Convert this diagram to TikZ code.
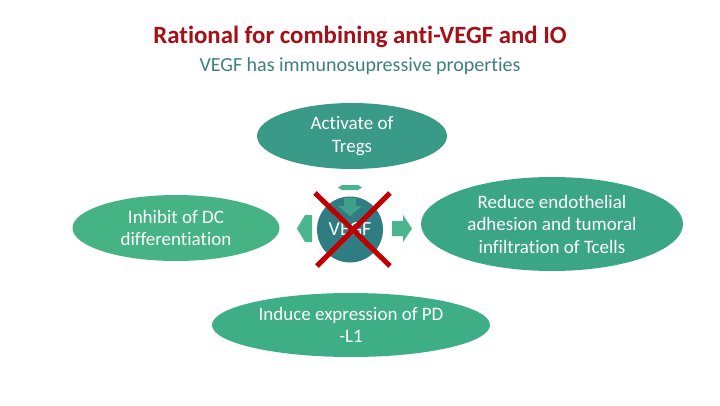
\documentclass[tikz,border=0pt]{standalone}
\usepackage{fontspec}
\setmainfont{Carlito}[Ligatures=NoCommon]
\usetikzlibrary{shapes.geometric,shapes.arrows}
\definecolor{titlered}{HTML}{A50F15}
\definecolor{subteal}{HTML}{3F7F80}
\definecolor{topell}{HTML}{3A9A88}
\definecolor{leftell}{HTML}{45B384}
\definecolor{rightell}{HTML}{3BA686}
\definecolor{botell}{HTML}{3DAE86}
\definecolor{center}{HTML}{2F7D82}
\definecolor{arrowc}{HTML}{4BB68E}
\definecolor{xred}{HTML}{C00000}
\tikzset{
  ell/.style={ellipse, inner sep=0pt, text=white, align=center, font=\fontsize{19}{22.5}\selectfont},
  sidearrow/.style={fill=arrowc, draw=none},
  crossline/.style={draw=xred, line width=5pt}
}
\begin{document}
\begin{tikzpicture}[x=1pt,y=-1pt]
\useasboundingbox (0,0) rectangle (720,405);
\fill[white] (0,0) rectangle (720,405);
\node (title) at (360,37) {\fontsize{24.8}{28}\selectfont\bfseries\color{titlered}Rational for combining anti-VEGF and IO};
\node (sub) at (360,66) {\fontsize{20}{24}\selectfont\color{subteal}VEGF has immunosupressive properties};
% arrows
\fill[sidearrow] (297,228.5) -- (305,215) -- (312,215) -- (312,242) -- (305,242) -- cycle;
\fill[sidearrow] (392,221) -- (403,221) -- (403,215) -- (412,228.5) -- (403,242) -- (403,236) -- (392,236) -- cycle;
\fill[sidearrow] (338,187.5) -- (342,185) -- (358,185) -- (362,187.5) -- (358,190) -- (342,190) -- cycle;
% ellipses
\node[ell, fill=topell, minimum width=190, minimum height=66] (tregs) at (352,136) {Activate of\\Tregs};
\node[ell, fill=leftell, minimum width=207, minimum height=66] (dc) at (176,228) {Inhibit of DC\\differentiation};
\node[ell, fill=rightell, minimum width=262, minimum height=94] (endo) at (552,224) {Reduce endothelial\\adhesion and tumoral\\infiltration of Tcells};
\node[ell, fill=botell, minimum width=278, minimum height=64] (pdl) at (351,325) {Induce expression of PD\\-L1};
% center
\node[circle, fill=center, minimum size=66, inner sep=0pt] (vegf) at (350,229.5) {};
\fill[arrowc, opacity=0.6] (344,198) -- (356,198) -- (356,206) -- (362,206) -- (350,216) -- (338,206) -- (344,206) -- cycle;
\node[text=white, font=\fontsize{20}{24}\selectfont] (vegft) at (vegf) {VEGF};
% cross
\coordinate (xa) at (315,193);
\coordinate (xb) at (390,266);
\coordinate (xc) at (390,193);
\coordinate (xd) at (317,266);
\draw[crossline] (xa) -- (xb);
\draw[crossline] (xc) -- (xd);
\end{tikzpicture}
\end{document}
